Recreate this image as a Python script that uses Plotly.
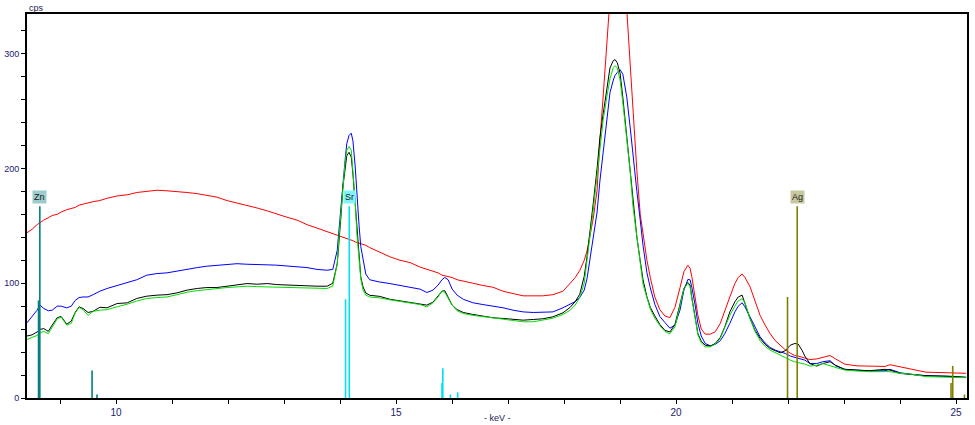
import plotly.graph_objects as go

# ---- spectrum energy grid (keV) ----
kev = [8.41, 8.50, 8.59, 8.64, 8.71, 8.79, 8.86, 8.95, 9.02, 9.12, 9.20, 9.27, 9.34, 9.41, 9.50, 9.59,
       9.71, 9.84, 10.02, 10.20, 10.37, 10.55, 10.73, 10.91, 11.09, 11.27, 11.45, 11.62, 11.80, 11.98,
       12.16, 12.34, 12.52, 12.70, 12.87, 13.05, 13.23, 13.41, 13.59, 13.77, 13.87, 13.95, 13.98, 14.02,
       14.05, 14.09, 14.12, 14.16, 14.20, 14.23, 14.27, 14.30, 14.34, 14.37, 14.41, 14.46, 14.53, 14.71,
       14.89, 15.07, 15.25, 15.43, 15.55, 15.66, 15.75, 15.82, 15.87, 15.93, 16.00, 16.09, 16.20, 16.37,
       16.55, 16.73, 16.91, 17.09, 17.27, 17.45, 17.62, 17.80, 17.98, 18.11, 18.20, 18.28, 18.36, 18.41,
       18.46, 18.52, 18.59, 18.64, 18.70, 18.77, 18.82, 18.88, 18.91, 18.95, 19.00, 19.05, 19.12, 19.18,
       19.23, 19.30, 19.36, 19.41, 19.48, 19.54, 19.62, 19.71, 19.80, 19.89, 19.98, 20.07, 20.14, 20.21,
       20.25, 20.28, 20.34, 20.39, 20.45, 20.52, 20.61, 20.70, 20.79, 20.87, 20.96, 21.05, 21.11, 21.18,
       21.23, 21.32, 21.41, 21.50, 21.59, 21.68, 21.77, 21.86, 21.95, 22.04, 22.12, 22.18, 22.25, 22.30,
       22.39, 22.51, 22.62, 22.75, 22.85, 23.01, 23.23, 23.46, 23.73, 23.82, 24.00, 24.23, 24.46, 24.84,
       25.18]

red_cps = [144, 147, 151, 153, 155, 157, 159, 160, 162, 164, 165, 166, 168, 169, 170, 171,
           172, 174, 176, 177, 179, 180, 181, 180.5, 180, 179, 178, 176.5, 175, 172,
           170, 168, 165.5, 163, 160, 157.5, 155, 151, 148, 145, 143, 142, 141.5, 141,
           140, 139.5, 139, 138, 137.5, 137, 136, 135.5, 135, 134, 133.5, 133, 131, 127,
           123, 120, 118, 114, 112, 110, 109, 107, 106.5, 106, 105, 103, 102, 100,
           98, 96.5, 93, 91, 89, 89, 89, 90, 93, 100, 105, 111, 120, 128,
           142, 156, 181, 224, 264, 315, 348, 372, 381, 385, 385, 373, 338, 290,
           250, 198, 160, 143, 120, 105, 88, 77, 71.5, 70, 79, 96, 110, 115.6,
           113, 106, 89, 72, 60, 55.6, 55.6, 57.7, 65, 75, 88, 99.7, 105, 108,
           105, 97, 85, 72, 63.5, 56, 50, 46, 42, 39, 37, 36.5, 35.5, 35,
           33.5, 34, 35.5, 37, 34, 29.5, 28, 27.5, 27.5, 29, 27, 25, 22.5, 22,
           21.5]

blue_cps = [65.5, 70.7, 76.5, 81, 78, 76, 76.5, 80, 80, 78.5, 80, 85, 87.5, 88, 88, 90,
            93, 95.4, 98, 101, 103, 107, 108.4, 109, 110.7, 112, 113.6, 114.8, 115.4, 116.5,
            117, 116.5, 116.5, 116, 115.7, 114.8, 114, 113.6, 112, 111.3, 112, 128.7, 146, 169,
            189.6, 207, 221.5, 228.7, 230.7, 224, 202, 175, 150, 132, 120, 108, 103, 101,
            99.7, 98, 96.8, 94.8, 91.9, 94, 98.3, 103, 105, 103, 95, 89.6, 86, 83,
            81.4, 80.3, 78.6, 76.5, 75, 74.5, 74.5, 75, 78.6, 81.7, 84, 87.5, 94, 104,
            119, 137, 162, 189, 216, 249, 266, 277, 281, 283.5, 286, 282, 262, 236,
            210, 180, 155, 133, 109, 96, 81.7, 71, 65.8, 60.8, 63.5, 76.5, 94, 103.2,
            103, 96.8, 81, 65, 54, 47.5, 45.5, 46.7, 49.9, 56, 65, 75, 80, 83,
            79.4, 70.7, 60.6, 53.3, 48, 44, 41.7, 40.3, 38.8, 36.5, 35.4, 34.5, 33.8, 33,
            30, 30, 31.6, 32.5, 28, 25, 24.3, 23.5, 23.8, 25, 22, 20.4, 19.5, 18.8,
            18]

black_cps = [54, 55, 57.5, 59.7, 60.5, 58, 63.5, 70, 71, 64.3, 67, 74.5, 79.4, 78, 74.5, 75.5,
             79, 78.6, 82.3, 82.9, 86.7, 88.7, 89.6, 90, 91.6, 94, 95.4, 96.2, 96.2, 97.4,
             98.8, 99.7, 99.1, 99.7, 98.8, 98.3, 98.3, 97.4, 97.4, 97.4, 100, 117, 134.5, 160.6,
             183.8, 201, 211, 214, 210, 195, 169, 143, 120, 105.5, 96.8, 91.5, 89.5, 88.5,
             86, 84.5, 83.5, 82, 80.9, 83.5, 89, 93, 93.5, 88, 81, 77, 74.5, 72.8,
             71.3, 69.9, 69.3, 68.4, 67.8, 68.4, 69, 70.7, 74.2, 79, 84, 90.4, 106, 123,
             142.6, 169, 200, 226.7, 248, 271, 287.5, 294, 294.8, 292, 283, 261.5, 229, 200.6,
             173, 140, 119.4, 103, 88, 78.9, 71.6, 64, 59, 57.5, 64, 81, 95.4, 100.6,
             98.3, 88, 69.3, 56, 49.5, 46, 45.2, 47.5, 52.8, 62, 75, 83.8, 88, 89.6,
             82.3, 69.3, 59, 52, 46.7, 43.2, 41.2, 39.4, 41.2, 46, 47.5, 47, 41.5, 36.5,
             30, 27.8, 30, 31.6, 28.5, 25, 24.3, 23.8, 25, 24.3, 21.4, 20.6, 19.4, 19.1,
             18]

green_cps = [51, 53, 54.5, 56.8, 58, 56, 62, 69, 70.5, 63.5, 65, 74, 78.9, 77, 72, 75.5,
             76.5, 77, 79.5, 81.7, 84.5, 86.7, 87.5, 88, 90, 92.2, 93.5, 94.5, 95.5, 96.2,
             96.8, 97.4, 97, 96.8, 96.5, 96.2, 96.2, 96.2, 96, 95.4, 97.5, 117, 140, 163.5,
             188, 205.5, 215.7, 219, 216, 199.7, 172, 143, 118.5, 104, 94, 89.6, 88, 87.2,
             85.5, 84.3, 83, 81.4, 79.4, 83, 88, 93.3, 92, 87, 81, 76, 73.6, 72,
             70.7, 69.5, 68.7, 67.5, 66.4, 66.4, 67.8, 69.5, 72.8, 76.5, 81, 87.5, 100, 118,
             140, 163, 196, 220.9, 243, 264, 278, 288, 289.5, 287.5, 277, 257, 228, 197.7,
             167, 138, 118, 99, 86, 77.4, 69.6, 63, 58, 56, 62, 79.4, 95, 100,
             97, 87, 67.8, 55, 48, 44.6, 44.6, 47, 52, 61, 72, 80, 84.6, 86.5,
             83, 69.3, 58, 50, 45, 41.7, 39.5, 37.4, 34.5, 33, 31.5, 31, 30, 29.5,
             27.8, 28.5, 30, 28, 26.5, 24.3, 23.5, 22.9, 23, 22.9, 21.5, 20.6, 18.6, 18.2,
             17.7]

# ---- element marker lines (keV, relative height in cps scale) ----
zn_kev = [8.616, 8.639, 9.572, 9.66]
zn_h = [85, 167, 24, 3]
sr_kev = [14.098, 14.165, 15.82, 15.835, 15.97, 16.10]
sr_h = [86, 167, 13, 26, 3, 5]
ag_kev = [21.99, 22.163, 24.91, 24.94, 25.15]
ag_h = [88, 167, 13, 28, 3]

labels = ["Zn", "Sr", "Ag"]
label_kev = [8.639, 14.165, 22.163]
label_bg = ["#9ccccc", "#80f4f8", "#c8c8a0"]

x_ticks = [10, 15, 20, 25]
y_ticks = [0, 100, 200, 300]

fig = go.Figure()

for vals, col in [(red_cps, "#ff0000"), (blue_cps, "#0000ff"),
                  (black_cps, "#000000"), (green_cps, "#00e000")]:
    fig.add_trace(go.Scatter(x=kev, y=vals, mode="lines",
                             line=dict(color=col, width=1), hoverinfo="skip",
                             showlegend=False))


def seg(xs, hs):
    X, Y = [], []
    for a, h in zip(xs, hs):
        X += [a, a, None]
        Y += [0, h, None]
    return X, Y


for xs, hs, col in [(zn_kev, zn_h, "#008080"), (sr_kev, sr_h, "#00e0f0"),
                    (ag_kev, ag_h, "#808000")]:
    X, Y = seg(xs, hs)
    fig.add_trace(go.Scatter(x=X, y=Y, mode="lines", line=dict(color=col, width=1.6),
                             hoverinfo="skip", showlegend=False))

for t, xk, bg in zip(labels, label_kev, label_bg):
    fig.add_annotation(x=xk, y=169, text=t, showarrow=False, xanchor="center",
                       yanchor="bottom", bgcolor=bg, borderpad=1,
                       font=dict(size=9, color="#202020", family="Liberation Sans"))

fig.add_annotation(xref="paper", yref="paper", x=0, y=1, xanchor="left", yanchor="bottom",
                   text="cps", showarrow=False, yshift=-1,
                   font=dict(size=9, color="#1a1a50", family="Liberation Sans"))
fig.add_annotation(xref="paper", yref="paper", x=0.5, y=0, xanchor="center", yanchor="middle",
                   text="- keV -", showarrow=False, yshift=-20,
                   font=dict(size=9, color="#1a1a50", family="Liberation Sans"))

fig.update_xaxes(range=[8.41, 25.195], tickvals=x_ticks, ticktext=[str(v) for v in x_ticks],
                 ticks="outside", ticklen=4, tickwidth=1, tickcolor="black",
                 minor=dict(dtick=1, tick0=0, ticks="outside", ticklen=4, tickcolor="black", showgrid=False),
                 showline=True, linecolor="black", linewidth=2, mirror=True,
                 showgrid=False, zeroline=False, automargin=False,
                 tickfont=dict(size=10, color="#1a1a6e", family="Liberation Sans"))
fig.update_yaxes(range=[0, 334.5], tickvals=y_ticks, ticktext=[str(v) for v in y_ticks],
                 ticks="outside", ticklen=4, tickwidth=1, tickcolor="black",
                 minor=dict(dtick=20, tick0=0, ticks="outside", ticklen=4, tickcolor="black", showgrid=False),
                 showline=True, linecolor="black", linewidth=2, mirror=True,
                 showgrid=False, zeroline=False, automargin=False,
                 tickfont=dict(size=9, color="#1a1a6e", family="Liberation Sans"))

fig.update_layout(width=975, height=425, margin=dict(l=27, r=8, t=14, b=27),
                  plot_bgcolor="white", paper_bgcolor="white", showlegend=False)

fig.write_html("out.html", config={"displayModeBar": False},
               post_script="document.body.style.margin='0';document.body.style.overflow='hidden';")
